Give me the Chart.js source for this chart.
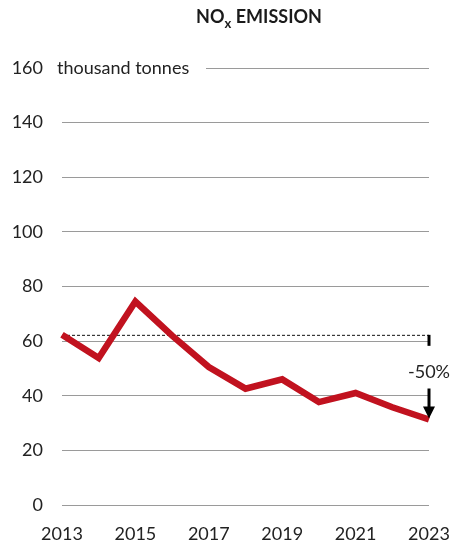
<!DOCTYPE html>
<html>
<head>
<meta charset="utf-8">
<script src="https://cdn.jsdelivr.net/npm/chart.js@4"></script>
<style>
html,body{margin:0;padding:0;background:#fff;}
#wrap{width:455px;height:545px;position:relative;}
</style>
</head>
<body>
<div id="wrap"><canvas id="c" width="455" height="545"></canvas></div>
<script>
const years = ['2013','2014','2015','2016','2017','2018','2019','2020','2021','2022','2023'];
const noxEmission = [62.3, 53.8, 74.5, 62, 50.5, 42.6, 46, 37.7, 41, 35.8, 31.3];
const yTicks = [0, 20, 40, 60, 80, 100, 120, 140, 160];
const unitLabel = 'thousand tonnes';
const changeLabel = '-50%';
const FONT = 'Lato, "Noto Sans", sans-serif';

const overlay = {
  id: 'overlay',
  beforeDatasetsDraw(chart) {
    const ctx = chart.ctx, y = chart.scales.y, x = chart.scales.x;
    const ca = chart.chartArea;
    ctx.save();
    const yt = y.getPixelForValue(160);
    ctx.fillStyle = '#fff';
    ctx.fillRect(ca.left - 8, yt - 4, 206 - ca.left + 8, 8);
    ctx.fillStyle = '#222';
    ctx.font = '18px ' + FONT;
    ctx.textBaseline = 'middle';
    ctx.textAlign = 'left';
    ctx.fillText(unitLabel, 57, yt);
    const yb = y.getPixelForValue(noxEmission[0]);
    ctx.strokeStyle = '#111';
    ctx.lineWidth = 1;
    ctx.setLineDash([3, 2]);
    ctx.beginPath();
    ctx.moveTo(x.getPixelForValue(0), yb + 0.5);
    ctx.lineTo(x.getPixelForValue(years.length - 1), yb + 0.5);
    ctx.stroke();
    ctx.restore();
  },
  afterDatasetsDraw(chart) {
    const ctx = chart.ctx, y = chart.scales.y, x = chart.scales.x;
    const xe = x.getPixelForValue(years.length - 1);
    const yb = y.getPixelForValue(noxEmission[0]);
    const ye = y.getPixelForValue(noxEmission[noxEmission.length - 1]);
    ctx.save();
    ctx.strokeStyle = '#000';
    ctx.fillStyle = '#000';
    ctx.lineWidth = 3;
    ctx.beginPath();
    ctx.moveTo(xe, yb);
    ctx.lineTo(xe, yb + 11);
    ctx.stroke();
    ctx.beginPath();
    ctx.moveTo(xe, ye - 31);
    ctx.lineTo(xe, ye - 10);
    ctx.stroke();
    ctx.beginPath();
    ctx.moveTo(xe - 6, ye - 13);
    ctx.lineTo(xe + 6, ye - 13);
    ctx.lineTo(xe, ye - 1);
    ctx.closePath();
    ctx.fill();
    ctx.font = '18px ' + FONT;
    ctx.fillStyle = '#222';
    ctx.textAlign = 'center';
    ctx.textBaseline = 'middle';
    ctx.fillText(changeLabel, xe, (yb + ye) / 2 - 5);
    // title
    ctx.fillStyle = '#1a1a1a';
    ctx.textBaseline = 'alphabetic';
    ctx.textAlign = 'left';
    const p1 = 'NO', p3 = ' EMISSION';
    ctx.font = 'bold 18px ' + FONT;
    const w1 = ctx.measureText(p1).width, w3 = ctx.measureText(p3).width;
    ctx.font = 'bold 13px ' + FONT;
    const w2 = ctx.measureText('x').width;
    let tx = 259 - (w1 + w2 + w3) / 2;
    ctx.font = 'bold 18px ' + FONT;
    ctx.fillText(p1, tx, 23);
    ctx.font = 'bold 13px ' + FONT;
    ctx.fillText('x', tx + w1, 28);
    ctx.font = 'bold 18px ' + FONT;
    ctx.fillText(p3, tx + w1 + w2, 23);
    ctx.restore();
  }
};

new Chart(document.getElementById('c'), {
  type: 'line',
  data: {
    labels: years,
    datasets: [{
      data: noxEmission,
      borderColor: '#c1121f',
      borderWidth: 6.5,
      borderJoinStyle: 'miter',
      borderCapStyle: 'butt',
      pointRadius: 0,
      tension: 0,
      fill: false
    }]
  },
  options: {
    responsive: false,
    animation: false,
    devicePixelRatio: 1,
    layout: { autoPadding: false, padding: { top: 68, right: 26, left: 0, bottom: 0 } },
    plugins: { legend: { display: false }, tooltip: { enabled: false } },
    scales: {
      x: {
        offset: false,
        grid: { display: false, drawTicks: false },
        border: { display: false },
        afterFit(s) { s.height = 40; s.paddingLeft = 0; s.paddingRight = 0; },
        ticks: {
          autoSkip: false,
          maxRotation: 0,
          padding: 18,
          color: '#222',
          font: { family: FONT, size: 18 },
          callback(v, i) { return i % 2 === 0 ? years[i] : ''; }
        }
      },
      y: {
        min: 0, max: 160,
        afterFit(s) { s.width = 62; s.paddingTop = 0; s.paddingBottom = 0; },
        afterBuildTicks(s) { s.ticks = yTicks.map(v => ({ value: v })); },
        grid: { color: '#9a9a9a', lineWidth: 1, drawTicks: false },
        border: { display: false },
        ticks: {
          padding: 19,
          color: '#222',
          font: { family: FONT, size: 18 }
        }
      }
    }
  },
  plugins: [overlay]
});
</script>
</body>
</html>
